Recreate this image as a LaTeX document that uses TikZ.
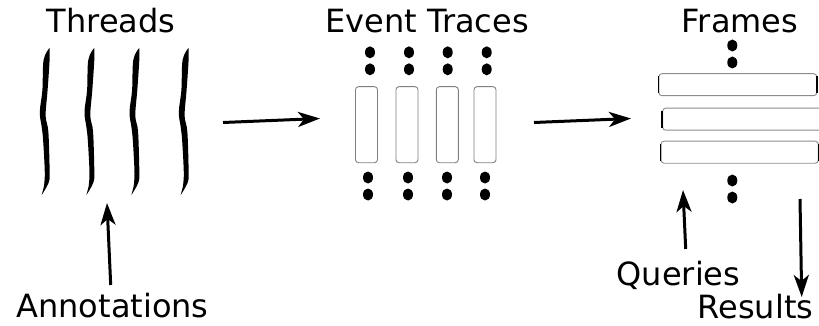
\documentclass[tikz,border=0pt]{standalone}
\usepackage{fontspec}
\setmainfont{DejaVu Sans}
\usetikzlibrary{arrows.meta}
\begin{document}
\begin{tikzpicture}[x=1pt,y=-1pt,
  title/.style={font=\fontsize{32}{38}\selectfont, anchor=base, inner sep=0pt},
  flow/.style={line width=3pt, -{Stealth[length=22pt,width=15pt,inset=6pt]}},
  tracebox/.style={draw=black!50, line width=0.9pt, rounded corners=3pt,
    minimum width=22pt, minimum height=76pt, inner sep=0pt},
  framebar/.style={draw=black!45, line width=0.9pt, rounded corners=3pt,
    minimum height=22pt, inner sep=0pt},
  barside/.style={line width=1.6pt},
  thread/.pic={
    \fill plot[smooth,tension=0.6] coordinates
      {(4.5,48) (4.6,60) (2.6,90) (0.6,115) (2.8,127) (3.8,140) (4.6,173) (3.5,183) (-3.3,195)}
      -- plot[smooth,tension=0.6] coordinates
      {(-1.2,187) (-0.2,173) (-1.9,140) (-3.3,127) (-5.2,112) (-2.6,90) (-1.4,60) (4.5,48)}
      -- cycle;
  },
  dotpair/.pic={
    \fill (0,0) ellipse [x radius=5pt, y radius=6pt];
    \fill (0,17) ellipse [x radius=5pt, y radius=6pt];
  }]
\useasboundingbox (0,0) rectangle (819,326);

% column titles
\node[title] (threads) at (111,33) {Threads};
\node[title] (traces) at (427,33) {Event Traces};
\node[title] (frames) at (740,33) {Frames};

% threads
\foreach \x in {45,89.7,134.7,184} \pic at (\x,0) {thread};

% event traces
\foreach \i/\x in {1/366.5,2/407,3/447.3,4/485} {
  \node[tracebox] (tr\i) at (\x,124.7) {};
}
\foreach \x in {370,409,447.7,486.7} \pic at (\x,52.3) {dotpair};
\foreach \x in {368,408,447,485} \pic at (\x,177.5) {dotpair};

% frames
\node[framebar, minimum width=157.7pt] (fr1) at (737.8,84.7) {};
\node[framebar, minimum width=160pt] (fr2) at (742.7,119.2) {};
\node[framebar, minimum width=157.3pt] (fr3) at (739.7,152.2) {};
\foreach \f in {fr1,fr2,fr3} {
  \draw[barside] ([yshift=-3pt]\f.north west) -- ([yshift=3pt]\f.south west);
  \draw[barside] ([yshift=-3pt]\f.north east) -- ([yshift=3pt]\f.south east);
}
\pic at (732.3,45.5) {dotpair};
\pic at (732.3,180.5) {dotpair};

% bottom labels
\node[title] (annot) at (112.5,317) {Annotations};
\node[title] (queries) at (678.5,285) {Queries};
\node[title] (results) at (755.5,318) {Results};

% arrow end points
\coordinate (a1s) at (223,122.5);
\coordinate (a1e) at (320,118.5);
\coordinate (a2s) at (534,122.5);
\coordinate (a2e) at (631,118.5);
\coordinate (ans) at (110.7,285);
\coordinate (ane) at (107,203);
\coordinate (qs) at (685.7,249);
\coordinate (qe) at (683,190);
\coordinate (rs) at (800,199);
\coordinate (re) at (801.7,297);

\draw[flow] (a1s) -- (a1e);
\draw[flow] (a2s) -- (a2e);
\draw[flow] (ans) -- (ane);
\draw[flow] (qs) -- (qe);
\draw[flow] (rs) -- (re);
\end{tikzpicture}
\end{document}
